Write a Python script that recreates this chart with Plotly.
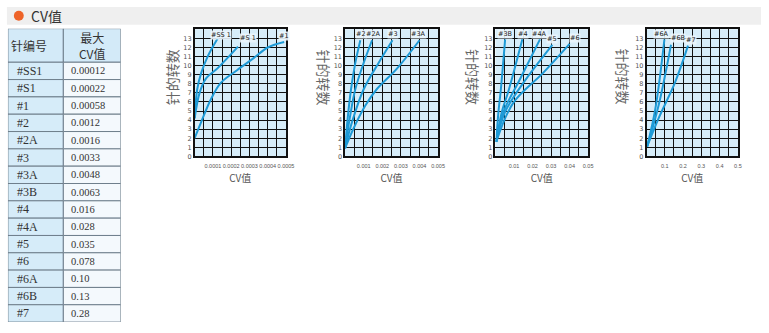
import plotly.graph_objects as go

W, H = 769, 333

# ---- table data ----
needle_ids = ["#SS1", "#S1", "#1", "#2", "#2A", "#3", "#3A", "#3B", "#4", "#4A", "#5", "#6", "#6A", "#6B", "#7"]
max_cv = ["0.00012", "0.00022", "0.00058", "0.0012", "0.0016", "0.0033", "0.0048", "0.0063",
          "0.016", "0.028", "0.035", "0.078", "0.10", "0.13", "0.28"]
table_headers = ["针编号", "最大<br>CV值"]

# ---- curve data (CV value, needle turns) ----
ss1_x = [0, 0.000014, 0.000036, 0.000071, 0.000129]
ss1_y = [4.2, 7.4, 9.2, 11.0, 13.1]
s1_x = [0, 0.000027, 0.0000625, 0.000125, 0.000187, 0.000237]
s1_y = [4.2, 7.0, 8.6, 9.7, 11.0, 12.1]
n1_x = [0, 0.000036, 0.000089, 0.000143, 0.000232, 0.000321, 0.0004, 0.00049]
n1_y = [2.0, 3.8, 6.3, 8.1, 9.5, 10.8, 12.0, 12.6]

n2_x = [0, 0.00014, 0.00032, 0.00055, 0.00082]
n2_y = [0.9, 4.2, 7.4, 10.3, 12.8]
n2a_x = [0, 0.00025, 0.00055, 0.001, 0.00145]
n2a_y = [0.9, 4.2, 7.4, 10.3, 12.8]
n3_x = [0, 0.000375, 0.001, 0.0018, 0.00255]
n3_y = [0.9, 3.8, 7.4, 10.3, 12.8]
n3a_x = [0, 0.00046, 0.00109, 0.0017, 0.0028, 0.004]
n3a_y = [0.9, 3.1, 5.6, 7.4, 9.7, 12.8]

n3b_x = [0.0004, 0.0016, 0.0029, 0.0052]
n3b_y = [1.6, 4.9, 7.4, 12.9]
n4_x = [0.0004, 0.0034, 0.007, 0.0145]
n4_y = [1.6, 4.9, 7.2, 12.9]
n4a_x = [0.0004, 0.0043, 0.0132, 0.024]
n4a_y = [1.6, 4.9, 8.5, 12.9]
n5_x = [0.0004, 0.0052, 0.015, 0.0307]
n5_y = [1.6, 4.9, 8.1, 12.3]
n6_x = [0.0004, 0.0096, 0.0257, 0.04]
n6_y = [1.6, 5.9, 9.2, 12.4]

n6a_x = [0.0036, 0.048, 0.098]
n6a_y = [1.1, 5.2, 12.9]
n6b_x = [0.0036, 0.066, 0.134]
n6b_y = [1.1, 5.6, 12.3]
n7_x = [0.0036, 0.066, 0.155, 0.227]
n7_y = [1.1, 4.2, 8.1, 12.2]

panels = [
    dict(series=[(ss1_x, ss1_y), (s1_x, s1_y), (n1_x, n1_y)], xmax=0.0005, step=0.00005,
         ticks=["0.0001", "0.0002", "0.0003", "0.0004", "0.0005"],
         labels=[("#SS 1", 0.000143, 13.4), ("#S 1", 0.00029, 13.0), ("#1", 0.00049, 13.3)]),
    dict(series=[(n2_x, n2_y), (n2a_x, n2a_y), (n3_x, n3_y), (n3a_x, n3a_y)], xmax=0.005, step=0.0005,
         ticks=["0.001", "0.002", "0.003", "0.004", "0.005"],
         labels=[("#2", 0.00086, 13.5), ("#2A", 0.00154, 13.5), ("#3", 0.00257, 13.5), ("#3A", 0.00395, 13.5)]),
    dict(series=[(n3b_x, n3b_y), (n4_x, n4_y), (n4a_x, n4a_y), (n5_x, n5_y), (n6_x, n6_y)], xmax=0.05, step=0.005,
         ticks=["0.01", "0.02", "0.03", "0.04", "0.05"],
         labels=[("#3B", 0.0052, 13.5), ("#4", 0.0146, 13.5), ("#4A", 0.0236, 13.5), ("#5", 0.0307, 12.9), ("#6", 0.0427, 13.1)]),
    dict(series=[(n6a_x, n6a_y), (n6b_x, n6b_y), (n7_x, n7_y)], xmax=0.5, step=0.05,
         ticks=["0.1", "0.2", "0.3", "0.4", "0.5"],
         labels=[("#6A", 0.080, 13.5), ("#6B", 0.173, 13.0), ("#7", 0.245, 12.8)]),
]

box_x = [(196.7, 289.0), (348.7, 442.7), (500.7, 594.3), (653.3, 745.7)]
box_top, box_bot = 29.7, 158.3
ytitle_x = [174, 327, 478, 629]
ytitle_angle = [-90, 90, 90, 90]

LINE = "#1e9ad6"
BG = "#d7edf9"
GRID = "#111111"
fig = go.Figure()

# header bar
fig.add_shape(type="rect", xref="paper", yref="paper", x0=7 / W, x1=1, y0=1 - 25 / H, y1=1 - 7 / H,
              fillcolor="#efefef", line_width=0, layer="below")
fig.add_shape(type="circle", xref="paper", yref="paper", x0=14 / W, x1=24 / W, y0=1 - 21 / H, y1=1 - 11 / H,
              fillcolor="#ee6328", line_width=0)
fig.add_annotation(x=29 / W, y=1 - 16 / H, xref="paper", yref="paper", text="CV值", showarrow=False,
                   xanchor="left", yanchor="middle",
                   font=dict(size=14, color="#333", family="Noto Sans CJK SC"))

# ---- table drawn on its own hidden axes (x: column units, y: row units, reversed) ----
tbl_left, tbl_right, tbl_top, tbl_bot = 8, 122, 29, 326
n_rows = len(needle_ids)
hdr_h = 34 / ((tbl_bot - tbl_top - 34) / n_rows)  # header height in row units
col_split = 56 / 114  # fraction of width for first column
fig.layout["xaxis5"] = dict(domain=[tbl_left / W, tbl_right / W], range=[0, 1], visible=False,
                            anchor="y5", fixedrange=True)
fig.layout["yaxis5"] = dict(domain=[1 - tbl_bot / H, 1 - tbl_top / H], range=[hdr_h + n_rows, 0],
                            visible=False, anchor="x5", fixedrange=True)
LC = "#6f7f8c"
fig.add_shape(type="rect", xref="x5", yref="y5", x0=0, x1=col_split, y0=0, y1=hdr_h,
              fillcolor="#d3eaf8", line=dict(color=LC, width=1))
fig.add_shape(type="rect", xref="x5", yref="y5", x0=col_split, x1=1, y0=0, y1=hdr_h,
              fillcolor="#d3eaf8", line=dict(color=LC, width=1))
fig.add_annotation(x=0.01, y=hdr_h / 2, xref="x5", yref="y5", text=table_headers[0], showarrow=False,
                   xanchor="left", yanchor="middle", font=dict(size=12, color="#333", family="Noto Sans CJK SC"))
fig.add_annotation(x=(col_split + 1) / 2, y=hdr_h / 2, xref="x5", yref="y5", text=table_headers[1],
                   showarrow=False, align="center", xanchor="center", yanchor="middle",
                   font=dict(size=12, color="#333", family="Noto Sans CJK SC"))
for r, (nid, cv) in enumerate(zip(needle_ids, max_cv)):
    y0 = hdr_h + r
    fig.add_shape(type="rect", xref="x5", yref="y5", x0=0, x1=col_split, y0=y0, y1=y0 + 1,
                  fillcolor="#d6ecf9", line=dict(color=LC, width=1))
    fig.add_shape(type="rect", xref="x5", yref="y5", x0=col_split, x1=1, y0=y0, y1=y0 + 1,
                  fillcolor="#f4f9fd", line=dict(color=LC, width=1))
    fig.add_annotation(x=0.06, y=y0 + 0.5, xref="x5", yref="y5", text=nid, showarrow=False,
                       xanchor="left", yanchor="middle",
                       font=dict(size=12, color="#333", family="Liberation Serif"))
    fig.add_annotation(x=col_split + 0.05, y=y0 + 0.5, xref="x5", yref="y5", text=cv, showarrow=False,
                       xanchor="left", yanchor="middle",
                       font=dict(size=10.5, color="#333", family="Liberation Serif"))

# ---- the four charts ----
for i, p in enumerate(panels):
    ax = "" if i == 0 else str(i + 1)
    xa, ya = "x" + ax, "y" + ax
    x0, x1 = box_x[i]
    for sx, sy in p["series"]:
        fig.add_trace(go.Scatter(x=sx, y=sy, mode="lines", line=dict(color=LINE, width=2, shape="spline"),
                                 xaxis=xa, yaxis=ya, showlegend=False, hoverinfo="skip"))
    n = int(round(p["xmax"] / p["step"]))
    tv = [k * p["step"] for k in range(n + 1)]
    tt = [p["ticks"][k // 2 - 1] if (k > 0 and k % 2 == 0) else "" for k in range(n + 1)]
    fig.layout["xaxis" + ax] = dict(domain=[x0 / W, x1 / W], range=[0, p["xmax"]], anchor=ya,
                                     tickvals=tv, ticktext=tt, tickangle=0, showgrid=True,
                                     gridcolor=GRID, gridwidth=1.3, ticklabelstandoff=3,
                                     showline=True, mirror=True, linecolor=GRID, linewidth=1.5, zeroline=False,
                                     ticks="", tickfont=dict(size=5.5, color="#555", family="Liberation Sans"),
                                     title=dict(text="CV值", font=dict(size=10, color="#555", family="Noto Sans CJK SC"),
                                                standoff=7),
                                     fixedrange=True)
    fig.layout["yaxis" + ax] = dict(domain=[1 - box_bot / H, 1 - box_top / H], range=[0, 14], anchor=xa,
                                     tickvals=list(range(15)), ticktext=[str(k) for k in range(14)] + [""],
                                     showgrid=True, gridcolor=GRID, gridwidth=1.3,
                                     showline=True, mirror=True, linecolor=GRID, linewidth=1.5, zeroline=False,
                                     ticks="", tickfont=dict(size=6.5, color="#555", family="DejaVu Sans"),
                                     fixedrange=True)
    fig.add_shape(type="rect", xref=xa + " domain", yref=ya + " domain", x0=0, x1=1, y0=0, y1=1,
                  fillcolor=BG, line_width=0, layer="below")
    for txt, lx, ly in p["labels"]:
        fig.add_annotation(x=lx, y=ly, xref=xa, yref=ya, text=txt, showarrow=False,
                           bgcolor="rgba(235,245,252,0.9)", borderpad=0,
                           font=dict(size=6.5, color="#222", family="DejaVu Sans"))
    fig.add_annotation(x=ytitle_x[i] / W, y=1 - 78 / H, xref="paper", yref="paper", text="针的转数",
                       textangle=ytitle_angle[i], showarrow=False, xanchor="center", yanchor="middle",
                       font=dict(size=14, color="#666", family="Noto Sans CJK SC"))

fig.update_layout(width=W, height=H, margin=dict(l=0, r=0, t=0, b=0),
                  paper_bgcolor="white", plot_bgcolor="rgba(0,0,0,0)", showlegend=False)
fig.write_html("out.html")
